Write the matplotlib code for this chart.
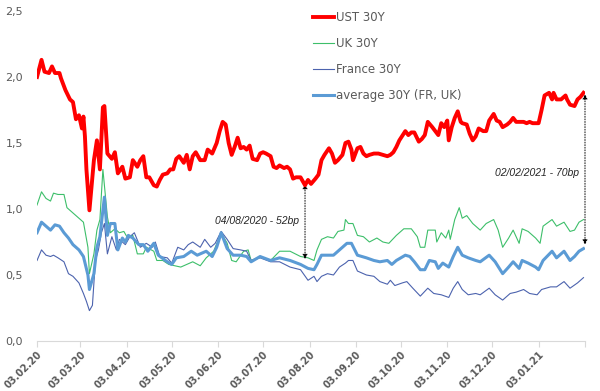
import numpy as np
import pandas as pd
import matplotlib
matplotlib.use('Agg')
import matplotlib.pyplot as plt
from matplotlib.ticker import FuncFormatter

start = pd.Timestamp('2020-02-03')

# day offsets from 03.02.2020 and yields (%)
ust_days = [0, 3, 5, 8, 10, 12, 15, 16, 19, 22, 24, 26, 28, 30, 31, 32, 33, 35, 38, 40,
            42, 44, 45, 47, 50, 52, 54, 57, 59, 62, 64, 67, 69, 71, 73, 75, 78, 80, 82, 84,
            87, 89, 91, 93, 95, 98, 100, 102, 104, 106, 109, 112, 114, 117, 120, 122, 124, 126, 128, 130,
            132, 134, 136, 138, 140, 142, 144, 147, 149, 151, 153, 156, 158, 160, 162, 165, 167, 169, 171, 173,
            176, 179, 181, 183, 186, 188, 190, 192, 195, 197, 199, 201, 204, 206, 208, 210, 211, 214, 216, 218,
            220, 222, 225, 228, 231, 234, 236, 238, 240, 242, 246, 248, 250, 252, 255, 257, 259, 261, 264, 266,
            268, 270, 272, 274, 275, 277, 279, 281, 283, 284, 287, 289, 291, 293, 295, 298, 300, 302, 305, 307,
            309, 311, 314, 316, 318, 320, 323, 325, 327, 329, 331, 335, 337, 339, 342, 344, 345, 347, 350, 353,
            354, 356, 359, 361, 363, 365]
ust_30y = [2.00, 2.13, 2.04, 2.03, 2.08, 2.03, 2.03, 1.99, 1.90, 1.83, 1.81, 1.68, 1.71, 1.61, 1.70, 1.55, 1.30, 0.99, 1.37, 1.52,
           1.30, 1.77, 1.78, 1.42, 1.38, 1.43, 1.27, 1.32, 1.23, 1.24, 1.37, 1.32, 1.37, 1.40, 1.24, 1.24, 1.18, 1.17, 1.22, 1.26,
           1.27, 1.30, 1.30, 1.38, 1.40, 1.35, 1.41, 1.30, 1.40, 1.43, 1.37, 1.37, 1.45, 1.42, 1.50, 1.59, 1.66, 1.64, 1.50, 1.41,
           1.47, 1.54, 1.46, 1.47, 1.45, 1.48, 1.38, 1.37, 1.42, 1.43, 1.42, 1.40, 1.32, 1.31, 1.33, 1.31, 1.32, 1.30, 1.23, 1.24,
           1.24, 1.18, 1.22, 1.19, 1.23, 1.26, 1.37, 1.41, 1.46, 1.42, 1.35, 1.37, 1.41, 1.50, 1.51, 1.45, 1.37, 1.46, 1.47, 1.42,
           1.40, 1.41, 1.42, 1.42, 1.41, 1.40, 1.41, 1.43, 1.47, 1.52, 1.59, 1.56, 1.58, 1.58, 1.51, 1.53, 1.56, 1.66, 1.62, 1.59,
           1.56, 1.65, 1.62, 1.67, 1.52, 1.62, 1.69, 1.74, 1.66, 1.65, 1.64, 1.57, 1.52, 1.55, 1.61, 1.59, 1.59, 1.67, 1.72, 1.67,
           1.66, 1.62, 1.64, 1.66, 1.69, 1.66, 1.66, 1.66, 1.65, 1.66, 1.65, 1.65, 1.75, 1.86, 1.88, 1.83, 1.88, 1.83, 1.83, 1.86,
           1.83, 1.79, 1.78, 1.83, 1.85, 1.88]

uk_days = [0, 3, 6, 9, 11, 14, 18, 20, 27, 31, 34, 35, 38, 40, 42, 44, 47, 49, 52, 55,
           58, 60, 64, 67, 71, 73, 78, 80, 84, 88, 96, 100, 104, 109, 113, 118, 123, 127, 130, 133,
           138, 141, 143, 149, 156, 162, 169, 176, 181, 185, 187, 190, 194, 198, 201, 205, 206, 208, 211, 214,
           218, 222, 227, 231, 235, 240, 245, 250, 254, 256, 259, 261, 266, 267, 270, 273, 275, 276, 279, 282,
           284, 287, 291, 296, 300, 305, 308, 311, 315, 318, 322, 324, 328, 333, 336, 338, 344, 347, 352, 356,
           359, 362, 365]
uk_30y = [1.03, 1.13, 1.08, 1.06, 1.12, 1.11, 1.11, 1.01, 0.94, 0.90, 0.71, 0.51, 0.66, 0.84, 0.92, 1.30, 0.94, 0.82, 0.85, 0.82,
          0.83, 0.79, 0.80, 0.66, 0.66, 0.71, 0.68, 0.61, 0.61, 0.58, 0.56, 0.58, 0.60, 0.57, 0.63, 0.68, 0.82, 0.74, 0.61, 0.60,
          0.68, 0.69, 0.61, 0.64, 0.61, 0.68, 0.68, 0.64, 0.63, 0.61, 0.69, 0.77, 0.79, 0.78, 0.83, 0.84, 0.92, 0.89, 0.89, 0.80,
          0.79, 0.75, 0.78, 0.75, 0.74, 0.80, 0.85, 0.85, 0.79, 0.71, 0.71, 0.84, 0.84, 0.75, 0.82, 0.78, 0.84, 0.77, 0.92, 1.01,
          0.93, 0.95, 0.89, 0.84, 0.89, 0.92, 0.84, 0.71, 0.78, 0.84, 0.74, 0.85, 0.83, 0.78, 0.74, 0.87, 0.92, 0.87, 0.90, 0.83,
          0.84, 0.90, 0.92]

fr_days = [0, 3, 6, 9, 11, 14, 18, 21, 24, 28, 31, 33, 35, 37, 39, 41, 43, 45, 47, 50,
           53, 55, 59, 62, 65, 69, 73, 77, 79, 82, 87, 90, 94, 98, 101, 104, 109, 112, 116, 119,
           123, 127, 131, 136, 140, 143, 149, 156, 162, 169, 176, 181, 185, 187, 190, 194, 198, 202, 206, 208,
           211, 214, 220, 225, 229, 234, 236, 239, 244, 247, 251, 256, 261, 265, 270, 275, 278, 281, 284, 288,
           293, 296, 302, 306, 311, 316, 320, 325, 329, 334, 337, 343, 347, 352, 356, 361, 365]
fr_30y = [0.61, 0.69, 0.65, 0.64, 0.65, 0.63, 0.60, 0.51, 0.49, 0.44, 0.36, 0.30, 0.23, 0.27, 0.61, 0.69, 0.82, 0.89, 0.66, 0.79,
          0.69, 0.77, 0.73, 0.79, 0.82, 0.71, 0.74, 0.71, 0.75, 0.64, 0.63, 0.59, 0.71, 0.69, 0.73, 0.75, 0.71, 0.77, 0.71, 0.74,
          0.83, 0.77, 0.70, 0.69, 0.68, 0.61, 0.63, 0.60, 0.60, 0.56, 0.54, 0.46, 0.49, 0.45, 0.49, 0.51, 0.50, 0.56, 0.59, 0.61,
          0.61, 0.53, 0.50, 0.49, 0.45, 0.43, 0.46, 0.42, 0.44, 0.45, 0.40, 0.34, 0.40, 0.36, 0.35, 0.33, 0.40, 0.45, 0.39, 0.35,
          0.36, 0.35, 0.40, 0.35, 0.31, 0.36, 0.37, 0.39, 0.36, 0.35, 0.39, 0.41, 0.41, 0.45, 0.40, 0.44, 0.48]

avg_days = [0, 3, 6, 9, 12, 15, 18, 21, 24, 28, 31, 34, 35, 38, 40, 42, 45, 47, 49, 52,
            54, 57, 59, 61, 64, 68, 71, 74, 78, 81, 87, 90, 93, 98, 103, 107, 109, 113, 117, 120,
            123, 127, 131, 136, 140, 143, 149, 156, 162, 169, 176, 181, 185, 187, 190, 194, 198, 202, 207, 210,
            214, 220, 225, 229, 234, 237, 240, 246, 249, 252, 256, 259, 262, 266, 268, 271, 275, 278, 281, 284,
            288, 293, 296, 302, 306, 311, 315, 318, 322, 324, 328, 333, 335, 338, 344, 347, 352, 356, 359, 362,
            365]
avg_30y = [0.82, 0.90, 0.87, 0.84, 0.88, 0.87, 0.82, 0.78, 0.73, 0.69, 0.64, 0.50, 0.39, 0.51, 0.71, 0.79, 1.09, 0.80, 0.89, 0.89,
           0.69, 0.78, 0.75, 0.80, 0.78, 0.73, 0.73, 0.68, 0.74, 0.65, 0.60, 0.58, 0.63, 0.64, 0.68, 0.65, 0.66, 0.68, 0.64, 0.71,
           0.82, 0.70, 0.65, 0.65, 0.64, 0.60, 0.64, 0.61, 0.63, 0.61, 0.58, 0.55, 0.54, 0.58, 0.65, 0.65, 0.65, 0.69, 0.74, 0.74,
           0.65, 0.63, 0.61, 0.60, 0.61, 0.58, 0.61, 0.65, 0.64, 0.60, 0.54, 0.54, 0.61, 0.60, 0.55, 0.59, 0.56, 0.64, 0.71, 0.65,
           0.63, 0.61, 0.60, 0.65, 0.60, 0.51, 0.56, 0.60, 0.55, 0.61, 0.59, 0.56, 0.54, 0.61, 0.68, 0.63, 0.68, 0.61, 0.64, 0.68,
           0.70]

# spread annotations: day, top, bottom, label
note_days = [179, 366]
note_top = [1.19, 1.87]
note_bottom = [0.62, 0.73]
note_text = ['04/08/2020 - 52bp', '02/02/2021 - 70bp']
note_text_y = [0.91, 1.27]

tick_dates = pd.date_range('2020-02-01', periods=13, freq='MS') + pd.Timedelta(days=2)
tick_labels = [d.strftime('%d.%m.%y') for d in tick_dates[:-1]] + ['']


def to_dates(days):
    return start + pd.to_timedelta(days, unit='D')


fig = plt.figure(figsize=(6, 3.91), dpi=100)
ax = fig.add_axes([0.0617, 0.1279, 0.9133, 0.844])

grey = '#595959'
ax.plot(to_dates(ust_days), ust_30y, color='#FF0000', lw=2.8, label='UST 30Y', zorder=4)
ax.plot(to_dates(uk_days), uk_30y, color='#3DBF6A', lw=0.8, label='UK 30Y', zorder=2)
ax.plot(to_dates(fr_days), fr_30y, color='#4C63AE', lw=0.8, label='France 30Y', zorder=2)
ax.plot(to_dates(avg_days), avg_30y, color='#5B9BD5', lw=2.2, label='average 30Y (FR, UK)', zorder=3)

for d, top, bot, txt, ty in zip(note_days, note_top, note_bottom, note_text, note_text_y):
    x = to_dates([d])[0]
    ax.annotate('', xy=(x, top), xytext=(x, bot),
                arrowprops=dict(arrowstyle='<|-|>', color='black', lw=0.7, ls=':',
                                mutation_scale=7, shrinkA=0, shrinkB=0))
    ax.text(x - pd.Timedelta(days=4), ty, txt, ha='right', va='center',
            fontsize=7.5, style='italic', color='#262626', family='Liberation Sans')

ax.set_ylim(0, 2.5)
ax.set_yticks(np.arange(0, 2.51, 0.5))
ax.yaxis.set_major_formatter(FuncFormatter(lambda v, p: f'{v:.1f}'.replace('.', ',')))
ax.set_xlim(start, start + pd.Timedelta(days=366))
ax.set_xticks(tick_dates)
ax.set_xticklabels(tick_labels, rotation=45, ha='right', va='top', rotation_mode='anchor',
                   fontsize=7, fontweight='bold', color=grey)

for s in ['top', 'right', 'left']:
    ax.spines[s].set_visible(False)
ax.spines['bottom'].set_color('#D9D9D9')
ax.tick_params(axis='y', length=0, pad=10, labelsize=8, labelcolor=grey)
ax.tick_params(axis='x', length=4, color='#D9D9D9', pad=2)

leg = ax.legend(loc='upper left', bbox_to_anchor=(0.503, 1.0), frameon=False,
                fontsize=8.5, handlelength=1.8, handletextpad=0.2, labelspacing=1.1,
                borderpad=0, borderaxespad=0)
for t in leg.get_texts():
    t.set_color(grey)

fig.savefig('out.png', dpi=100)
